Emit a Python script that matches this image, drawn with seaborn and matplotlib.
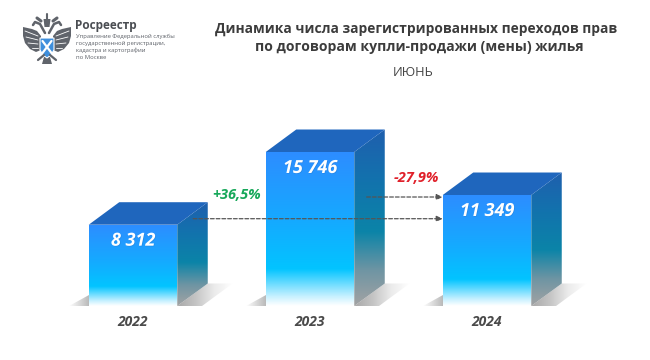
import numpy as np
import pandas as pd
import matplotlib
matplotlib.use('Agg')
import matplotlib.pyplot as plt
import matplotlib.patheffects as pe
from matplotlib.colors import LinearSegmentedColormap
from matplotlib.patches import Polygon
import seaborn as sns

years = ['2022', '2023', '2024']
values = [8312, 15746, 11349]
value_labels = ['8 312', '15 746', '11 349']

W, H = 650, 360
BASE_PX = 306
PX_PER_UNIT = 0.00978
DX, DY = 30.5, 22.5

front_cmap = LinearSegmentedColormap.from_list('front', [
    (0, '#ffffff'), (0.06, '#c8f1ff'), (0.24, '#02c4ff'), (0.55, '#15aaff'), (1, '#2d8dff')])
side_cmap = LinearSegmentedColormap.from_list('side', [
    (0, '#a3a3a3'), (0.2, '#6f95a3'), (0.42, '#0b84a8'), (0.7, '#1273ad'), (1, '#1f5fae')])
shadow_cmap = LinearSegmentedColormap.from_list('shadow', ['#ffffff', '#b9b9b9'])
shadow_r_cmap = LinearSegmentedColormap.from_list('shadow_r', ['#a8a8a8', '#c4c4c4', '#ebebeb', '#ffffff'])


def gradient(ax, poly, cmap, extent, horizontal=False):
    ax.add_patch(poly)
    grad = np.linspace(0, 1, 256).reshape(-1, 1)
    if horizontal:
        grad = grad.T
    im = ax.imshow(grad, cmap=cmap, origin='lower', extent=extent, aspect='auto',
                   zorder=poly.get_zorder(), interpolation='bilinear')
    im.set_clip_path(poly)


def draw_logo(fig):
    la = fig.add_axes([0, 0, 1, 1], zorder=5)
    la.set_xlim(0, W)
    la.set_ylim(H, 0)
    la.axis('off')
    grey = '#60646b'
    cx = 47
    wing = [(6, 36), (10, 31), (15, 29), (24, 27), (24, 36), (22, 43), (17, 49), (11, 52), (6, 50)]
    for s in (-1, 1):
        la.add_patch(Polygon([(cx + s * a, b) for a, b in wing], color=grey, lw=0))
        # feather slits
        for a0, b0, a1, b1 in [(9, 36, 22, 31), (9, 40, 21, 37), (9, 44, 19, 43), (9, 48, 15, 48)]:
            la.plot([cx + s * a0, cx + s * a1], [b0, b1], color='white', lw=0.6)
        # neck, head, crown
        la.plot([cx + s * 2, cx + s * 7, cx + s * 12, cx + s * 14], [33, 24, 22, 25], color=grey, lw=1.8)
        la.plot([cx + s * 6, cx + s * 10], [21, 18], color=grey, lw=2.2)
        la.plot([cx + s * 3, cx + s * 9], [55, 60], color=grey, lw=1.6)
    la.add_patch(Polygon([(43.5, 19), (50.5, 19), (49.5, 27), (44.5, 27)], color=grey, lw=0))
    la.plot([cx, cx], [14, 20], color=grey, lw=1.5)
    la.add_patch(Polygon([(44, 57), (50, 57), (52, 64), (42, 64)], color=grey, lw=0))
    la.add_patch(Polygon([(40, 38), (54, 38), (54, 50), (51, 55), (47, 58), (43, 55), (40, 50)],
                         facecolor='#3f8fdc', edgecolor='white', lw=0.8))
    la.plot([42.5, 51.5], [41, 53], color='white', lw=1.6)
    la.plot([51.5, 42.5], [41, 53], color='white', lw=1.6)


def main():
    sns.set_theme(style='white')
    plt.rcParams['font.family'] = ['Open Sans', 'DejaVu Sans']

    df = pd.DataFrame({'year': years, 'value': values})
    fig = plt.figure(figsize=(W / 100, H / 100), dpi=100)
    ax = fig.add_axes([0, (H - BASE_PX) / H, 1, BASE_PX / H])

    sns.barplot(data=df, x='year', y='value', width=0.5, color='#2d8dff', ax=ax, zorder=3)

    step = 177.0
    ax.set_xlim(-133 / step, (W - 133) / step)
    ax.set_ylim(0, BASE_PX / PX_PER_UNIT)
    ax_dx = DX / step
    ax_dy = DY / PX_PER_UNIT

    sns.despine(ax=ax, left=True, bottom=True)
    ax.set_xlabel('')
    ax.set_ylabel('')
    ax.set_yticks([])
    ax.tick_params(axis='x', length=0, pad=6.5)
    for t in ax.get_xticklabels():
        t.set_fontsize(10)
        t.set_fontstyle('italic')
        t.set_fontweight('bold')
        t.set_color('#4a4a4a')

    for bar, label in zip(ax.patches, value_labels):
        x0, x1 = bar.get_x(), bar.get_x() + bar.get_width()
        h = bar.get_height()
        bar.set_visible(False)

        # floor shadows
        gradient(ax, Polygon([(x1, 0), (x1 + ax_dx, ax_dy), (x1 + ax_dx + 0.14, ax_dy), (x1 + 0.14, 0)],
                             closed=True, fc='none', ec='none', zorder=1),
                 shadow_r_cmap, [x1, x1 + ax_dx + 0.14, 0, ax_dy], horizontal=True)
        gradient(ax, Polygon([(x0 - 0.11, 0), (x0, 0), (x0, ax_dy * 0.48)], closed=True,
                             fc='none', ec='none', zorder=1),
                 shadow_cmap, [x0 - 0.11, x0, 0, ax_dy], horizontal=True)

        # side and top faces
        gradient(ax, Polygon([(x1, 0), (x1 + ax_dx, ax_dy), (x1 + ax_dx, h + ax_dy), (x1, h)], closed=True,
                             fc='none', ec='none', zorder=2),
                 side_cmap, [x1, x1 + ax_dx, 0, h + ax_dy])
        ax.add_patch(Polygon([(x0, h), (x1, h), (x1 + ax_dx, h + ax_dy), (x0 + ax_dx, h + ax_dy)], closed=True,
                             fc='#1f66bd', ec='none', zorder=2))
        # front face
        gradient(ax, Polygon([(x0, 0), (x1, 0), (x1, h), (x0, h)], closed=True,
                             fc='none', ec='none', zorder=3),
                 front_cmap, [x0, x1, 0, h])

        ax.text((x0 + x1) / 2, h - 16 / PX_PER_UNIT, label, ha='center', va='center', color='white',
                fontsize=13, fontweight='bold', fontstyle='italic', zorder=6,
                path_effects=[pe.withSimplePatchShadow(offset=(0.4, -0.4), shadow_rgbFace='#1a4f8f', alpha=0.25)])

    ax.set_xlim(-133 / step, (W - 133) / step)
    ax.set_ylim(0, BASE_PX / PX_PER_UNIT)

    # dashed comparison arrows
    arrow = dict(arrowstyle='-|>,head_width=0.14,head_length=0.3', linestyle=(0, (3, 1.6)), color='#555555',
                 lw=0.9, shrinkA=0, shrinkB=0)
    lvl1 = values[0] + 6 / PX_PER_UNIT
    lvl2 = values[2] - 2 / PX_PER_UNIT
    ax.annotate('', xy=(2 - 0.25, lvl1), xytext=(0.34, lvl1), arrowprops=arrow, zorder=5)
    ax.annotate('', xy=(2 - 0.25, lvl2), xytext=(1.32, lvl2), arrowprops=arrow, zorder=5)

    ax.text(0.587, 11300, '+36,5%', ha='center', va='center', color='#17a85a', fontsize=10.5,
            fontweight='bold', fontstyle='italic')
    ax.text(1.6, 13090, '-27,9%', ha='center', va='center', color='#e0202a', fontsize=10.5,
            fontweight='bold', fontstyle='italic')

    # header
    fig.text(416.5 / W, 1 - 29 / H, 'Динамика числа зарегистрированных переходов прав', ha='center', va='center',
             fontsize=9.95, fontweight='bold', color='#3c3c3c')
    fig.text(419 / W, 1 - 47 / H, 'по договорам купли-продажи (мены) жилья', ha='center', va='center',
             fontsize=10.1, fontweight='bold', color='#3c3c3c')
    fig.text(413 / W, 1 - 73 / H, 'ИЮНЬ', ha='center', va='center', fontsize=9.3, color='#444444')

    fig.text(75 / W, 1 - 26 / H, 'Росреестр', ha='left', va='center', fontsize=8.5, fontweight='bold', color='#4a4d52')
    org_lines = ['Управление Федеральной службы', 'государственной регистрации,', 'кадастра и картографии', 'по Москве']
    for i, line in enumerate(org_lines):
        fig.text(75.5 / W, 1 - (36 + i * 7.2) / H, line, ha='left', va='center', fontsize=4.2, color='#5d6168')

    draw_logo(fig)
    fig.savefig('out.png', dpi=100)


if __name__ == "__main__":
    main()
